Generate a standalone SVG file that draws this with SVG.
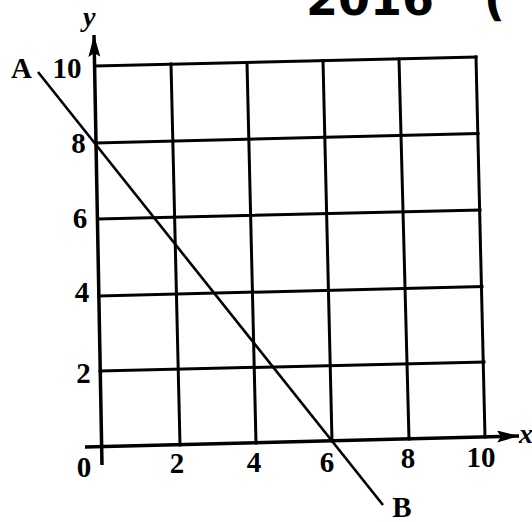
<svg xmlns="http://www.w3.org/2000/svg" width="532" height="522" viewBox="0 0 532 522">
  <style>
    .grid { stroke: #000; stroke-width: 3; fill: none; stroke-linecap: square; }
    .axis { stroke: #000; stroke-width: 3.5; fill: none; }
    .ab { stroke: #000; stroke-width: 2.6; fill: none; }
    .lbl { font-family: "Liberation Serif", "Times New Roman", serif; font-weight: bold; font-size: 29px; fill: #000; text-anchor: middle; }
    .var { font-family: "Liberation Serif", "Times New Roman", serif; font-style: italic; font-weight: bold; font-size: 28px; fill: #000; }
    .hand { font-family: "DejaVu Sans", sans-serif; font-weight: bold; font-size: 46px; fill: #000; }
  </style>
  <defs>
    <marker id="arrow" markerUnits="userSpaceOnUse" markerWidth="24" markerHeight="12" refX="22" refY="6" orient="auto">
      <path d="M0,0 L22,6 L0,12 L4,6 z" fill="#000"/>
    </marker>
  </defs>
  <rect width="532" height="522" fill="#fff"/>

  <g id="handwriting">
    <text class="hand" x="306" y="15">2016<tspan x="484">(</tspan></text>
  </g>

  <g id="grid">
    <line class="grid" x1="180" y1="445" x2="171" y2="64"/>
    <line class="grid" x1="256" y1="443" x2="247" y2="62.5"/>
    <line class="grid" x1="332" y1="441" x2="323" y2="60.5"/>
    <line class="grid" x1="409" y1="439" x2="399" y2="59"/>
    <line class="grid" x1="485" y1="437" x2="476" y2="57"/>
    <line class="grid" x1="100" y1="371" x2="484" y2="362"/>
    <line class="grid" x1="99" y1="296" x2="482" y2="286.5"/>
    <line class="grid" x1="98" y1="219" x2="480" y2="210"/>
    <line class="grid" x1="96" y1="143" x2="478" y2="133.5"/>
    <line class="grid" x1="95" y1="66" x2="476" y2="57"/>
  </g>

  <g id="axes">
    <line class="axis" x1="102" y1="465" x2="94" y2="35" marker-end="url(#arrow)"/>
    <line class="axis" x1="85" y1="447" x2="519" y2="436" marker-end="url(#arrow)"/>
  </g>

  <g id="connectors">
    <line id="lineAB" class="ab" x1="38" y1="72" x2="383" y2="505"/>
  </g>

  <g id="axis-labels">
    <text class="var" x="83" y="26">y</text>
    <text class="var" x="519" y="443">x</text>
  </g>

  <g id="point-A"><text class="lbl" x="21.5" y="78">A</text></g>
  <g id="point-B"><text class="lbl" x="402" y="517">B</text></g>

  <g id="y-ticks">
    <text class="lbl" x="67" y="78">10</text>
    <text class="lbl" x="78.5" y="153">8</text>
    <text class="lbl" x="80" y="228">6</text>
    <text class="lbl" x="82" y="302">4</text>
    <text class="lbl" x="83.5" y="383">2</text>
  </g>

  <g id="x-ticks">
    <text class="lbl" x="84" y="477">0</text>
    <text class="lbl" x="177" y="473">2</text>
    <text class="lbl" x="254" y="472">4</text>
    <text class="lbl" x="327" y="472">6</text>
    <text class="lbl" x="408" y="468">8</text>
    <text class="lbl" x="481" y="467">10</text>
  </g>
</svg>
